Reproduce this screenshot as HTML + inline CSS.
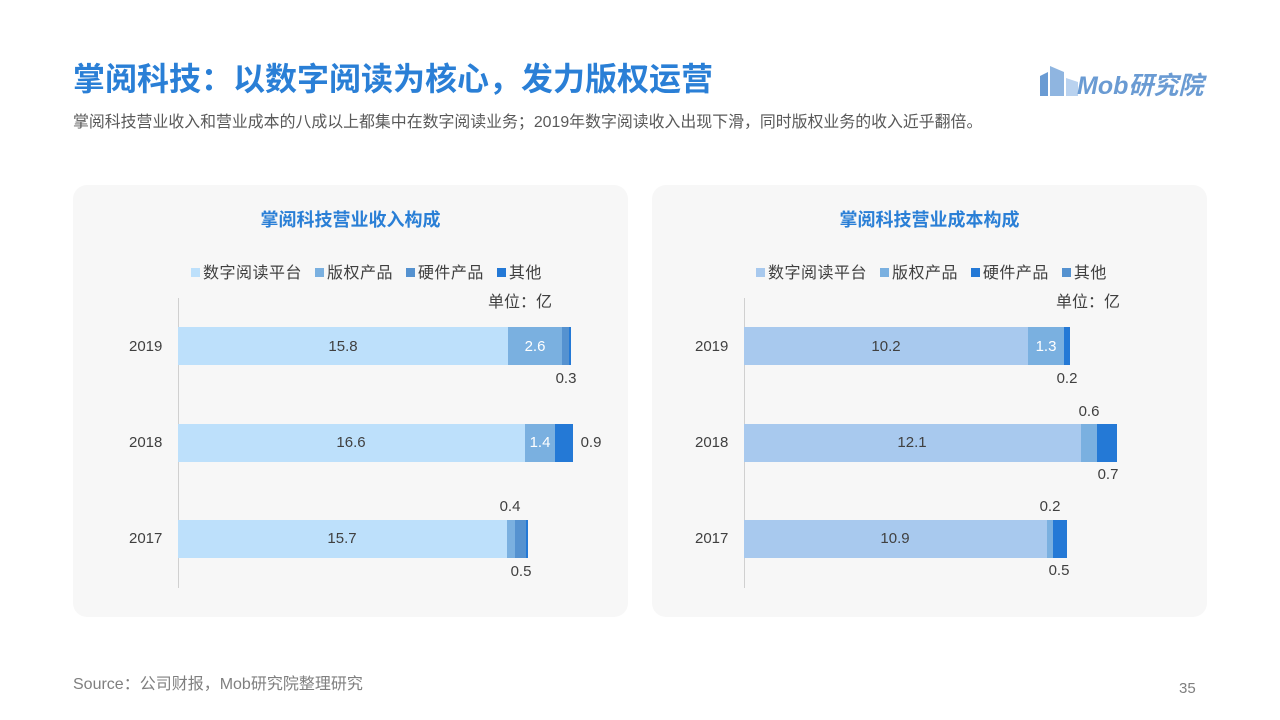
<!DOCTYPE html><html><head><meta charset="utf-8"><style>
body{margin:0;width:1280px;height:720px;background:#fff;position:relative;overflow:hidden;font-family:"Liberation Sans","Noto Sans CJK SC",sans-serif}
.a{position:absolute;white-space:nowrap}
.p{position:absolute;top:185px;width:555px;height:432px;background:#f7f7f7;border-radius:14px}
.b{position:absolute;height:38px}
.t{position:absolute;font-size:15px;color:#404040;transform:translateX(-50%)}
.y{position:absolute;font-size:15px;color:#404040}
.w{color:#fff}
.sq{display:inline-block;width:9px;height:9px;margin-right:3px;vertical-align:1px}
.lg{font-size:16px;color:#404040}
</style></head><body>
<div class="a" style="left:73px;top:54px;font-size:32px;font-weight:bold;color:#2a7fd6">掌阅科技：以数字阅读为核心，发力版权运营</div>
<div class="a" style="left:73px;top:109px;font-size:15.9px;color:#595959">掌阅科技营业收入和营业成本的八成以上都集中在数字阅读业务；2019年数字阅读收入出现下滑，同时版权业务的收入近乎翻倍。</div>
<svg class="a" style="left:1038px;top:62px" width="60" height="36"><polygon points="2,34 2,14 10,10 10,34" fill="#6a9bd3"/><polygon points="12,34 12,4 26,10 26,34" fill="#8fb5e0"/><polygon points="28,34 28,16 40,20 40,34" fill="#b9d2ef"/></svg>
<div class="a" style="left:1077px;top:66px;font-size:25px;font-weight:bold;font-style:italic;color:#6a9bd3">Mob研究院</div>
<div class="p" style="left:73px"></div><div class="p" style="left:652px"></div>
<div class="a" style="left:73px;width:555px;text-align:center;top:206px;font-size:18px;font-weight:bold;color:#2a7fd6">掌阅科技营业收入构成</div>
<div class="a" style="left:652px;width:555px;text-align:center;top:206px;font-size:18px;font-weight:bold;color:#2a7fd6">掌阅科技营业成本构成</div>
<div class="a lg" style="left:191px;top:259px;letter-spacing:0.5px"><span class="sq" style="background:#bde0fb"></span>数字阅读平台 <span class="sq" style="background:#7ab0e0;margin-left:8px"></span>版权产品 <span class="sq" style="background:#5592d0;margin-left:8px"></span>硬件产品 <span class="sq" style="background:#2479d6;margin-left:8px"></span>其他</div>
<div class="a lg" style="left:756px;top:259px;letter-spacing:0.5px"><span class="sq" style="background:#a8c9ee"></span>数字阅读平台 <span class="sq" style="background:#7ab0e0;margin-left:8px"></span>版权产品 <span class="sq" style="background:#2479d6;margin-left:8px"></span>硬件产品 <span class="sq" style="background:#5592d0;margin-left:8px"></span>其他</div>
<div class="a lg" style="left:488px;top:288px">单位：亿</div>
<div class="a lg" style="left:1056px;top:288px">单位：亿</div>
<div class="a" style="left:178px;top:298px;width:1px;height:290px;background:#d0d0d0"></div>
<div class="a" style="left:744px;top:298px;width:1px;height:290px;background:#d0d0d0"></div>
<div class="y" style="left:129px;top:338px">2019</div><div class="y" style="left:129px;top:434px">2018</div><div class="y" style="left:129px;top:530px">2017</div>
<div class="y" style="left:695px;top:338px">2019</div><div class="y" style="left:695px;top:434px">2018</div><div class="y" style="left:695px;top:530px">2017</div>
<div class="b" style="top:327px;left:178px;width:330px;background:#bde0fb"></div>
<div class="b" style="top:327px;left:508px;width:54px;background:#7ab0e0"></div>
<div class="b" style="top:327px;left:562px;width:7px;background:#5592d0"></div>
<div class="b" style="top:327px;left:569px;width:2px;background:#2479d6"></div>
<div class="b" style="top:424px;left:178px;width:347px;background:#bde0fb"></div>
<div class="b" style="top:424px;left:525px;width:30px;background:#7ab0e0"></div>
<div class="b" style="top:424px;left:555px;width:18px;background:#2479d6"></div>
<div class="b" style="top:520px;left:178px;width:329px;background:#bde0fb"></div>
<div class="b" style="top:520px;left:507px;width:8px;background:#7ab0e0"></div>
<div class="b" style="top:520px;left:515px;width:11px;background:#5592d0"></div>
<div class="b" style="top:520px;left:526px;width:2px;background:#2479d6"></div>
<div class="t" style="left:343px;top:338px">15.8</div><div class="t w" style="left:535px;top:338px">2.6</div><div class="t" style="left:566px;top:370px">0.3</div>
<div class="t" style="left:351px;top:434px">16.6</div><div class="t w" style="left:540px;top:434px">1.4</div><div class="t" style="left:591px;top:434px">0.9</div>
<div class="t" style="left:342px;top:530px">15.7</div><div class="t" style="left:510px;top:498px">0.4</div><div class="t" style="left:521px;top:563px">0.5</div>
<div class="b" style="top:327px;left:744px;width:284px;background:#a8c9ee"></div>
<div class="b" style="top:327px;left:1028px;width:36px;background:#7ab0e0"></div>
<div class="b" style="top:327px;left:1064px;width:6px;background:#2479d6"></div>
<div class="b" style="top:424px;left:744px;width:337px;background:#a8c9ee"></div>
<div class="b" style="top:424px;left:1081px;width:16px;background:#7ab0e0"></div>
<div class="b" style="top:424px;left:1097px;width:20px;background:#2479d6"></div>
<div class="b" style="top:520px;left:744px;width:303px;background:#a8c9ee"></div>
<div class="b" style="top:520px;left:1047px;width:6px;background:#7ab0e0"></div>
<div class="b" style="top:520px;left:1053px;width:14px;background:#2479d6"></div>
<div class="t" style="left:886px;top:338px">10.2</div><div class="t w" style="left:1046px;top:338px">1.3</div><div class="t" style="left:1067px;top:370px">0.2</div>
<div class="t" style="left:912px;top:434px">12.1</div><div class="t" style="left:1089px;top:403px">0.6</div><div class="t" style="left:1108px;top:466px">0.7</div>
<div class="t" style="left:895px;top:530px">10.9</div><div class="t" style="left:1050px;top:498px">0.2</div><div class="t" style="left:1059px;top:562px">0.5</div>
<div class="a" style="left:73px;top:670px;font-size:16px;color:#7f7f7f">Source：公司财报，Mob研究院整理研究</div>
<div class="a" style="left:1179px;top:680px;font-size:15px;color:#7f7f7f">35</div>
</body></html>
